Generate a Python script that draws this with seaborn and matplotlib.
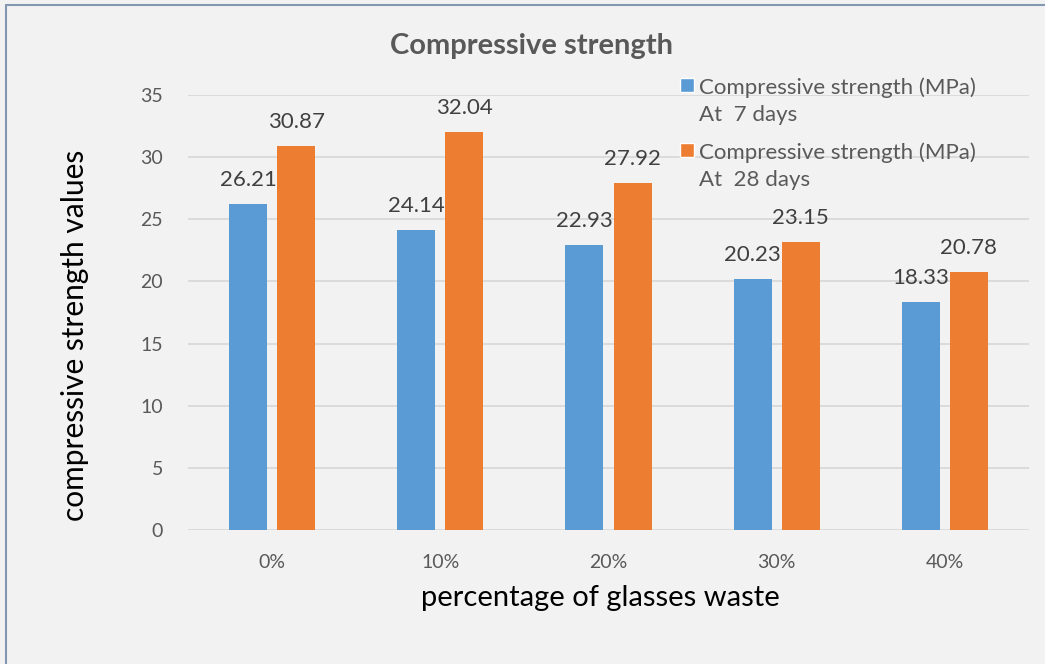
import matplotlib
matplotlib.use("Agg")
import matplotlib.pyplot as plt
from matplotlib.patches import Rectangle, Patch
from matplotlib.legend_handler import HandlerPatch
from matplotlib.lines import Line2D
import seaborn as sns
import pandas as pd

# Data
categories = ["0%", "10%", "20%", "30%", "40%"]
strength_7_days = [26.21, 24.14, 22.93, 20.23, 18.33]
strength_28_days = [30.87, 32.04, 27.92, 23.15, 20.78]
series_names = ["Compressive strength (MPa)\nAt  7 days",
                "Compressive strength (MPa)\nAt  28 days"]
y_ticks = [0, 5, 10, 15, 20, 25, 30, 35]

df = pd.DataFrame({
    "percentage": categories * 2,
    "value": strength_7_days + strength_28_days,
    "series": [series_names[0]] * len(categories) + [series_names[1]] * len(categories),
})

BLUE = "#5B9BD5"
ORANGE = "#ED7D31"
BG = "#F2F2F2"
GRID = "#D9D9D9"
GRAY = "#595959"

sns.set_theme(style="white")
plt.rcParams["font.family"] = ["Lato", "DejaVu Sans"]

W, H = 1045, 664
fig = plt.figure(figsize=(W / 100, H / 100), dpi=100, facecolor=BG)
ax = fig.add_axes([188 / W, 1 - 530 / H, (1029 - 188) / W, (530 - 95) / H])
ax.set_facecolor(BG)

sns.barplot(data=df, x="percentage", y="value", hue="series",
            palette=[BLUE, ORANGE], width=0.572, gap=0.21,
            saturation=1, linewidth=0, ax=ax, legend=False, zorder=3)

ax.set_ylim(0, 35)
ax.set_xlim(-0.5, len(categories) - 0.5)
ax.set_yticks(y_ticks)
ax.yaxis.grid(True, color=GRID, linewidth=1.3, zorder=0)
ax.set_axisbelow(True)
for s in ax.spines.values():
    s.set_visible(False)
ax.tick_params(axis="both", length=0, colors=GRAY, labelsize=14)
ax.tick_params(axis="y", pad=18)
ax.tick_params(axis="x", pad=17)

# Value labels above each bar
for container in ax.containers:
    ax.bar_label(container, fmt="%.2f", padding=10, fontsize=16, color="#404040")

ax.set_xlabel("percentage of glasses waste", fontsize=21, color="black")
ax.set_ylabel("compressive strength values", fontsize=21.5, color="black")
ax.xaxis.set_label_coords(600 / W, 1 - 598 / H, transform=fig.transFigure)
ax.xaxis.label.set_va("center")
ax.yaxis.set_label_coords(75 / W, 1 - 335 / H, transform=fig.transFigure)
ax.yaxis.label.set_va("center")
fig.text(532 / W, 1 - 46 / H, "Compressive strength", ha="center", va="center",
         fontsize=21, fontweight="bold", color=GRAY)


# Legend: small square marker beside the first line of each two-line label
def top_square(legend, orig_handle, xdescent, ydescent, width, height, fontsize):
    size = 0.63 * fontsize
    y_center = height - ydescent - 0.2 * fontsize
    return Rectangle((width - size - xdescent, y_center - size / 2), size, size)


handles = [Patch(facecolor=BLUE), Patch(facecolor=ORANGE)]
leg = ax.legend(handles, series_names, loc="upper left",
                bbox_to_anchor=(680 / W, 1 - 77 / H), bbox_transform=fig.transFigure,
                frameon=False, fontsize=16, labelcolor=GRAY,
                handlelength=0.65, handleheight=2.6, handletextpad=0.2,
                labelspacing=0.78, borderpad=0, borderaxespad=0,
                handler_map={Patch: HandlerPatch(patch_func=top_square)})
for t in leg.get_texts():
    t.set_linespacing(1.45)
leg.set_zorder(5)

# Outer chart border (left and top)
fig.add_artist(Line2D([6 / W, 6 / W], [0, 1 - 5 / H], transform=fig.transFigure,
                      color="#8497B0", linewidth=1.5))
fig.add_artist(Line2D([6 / W, 1], [1 - 5 / H, 1 - 5 / H], transform=fig.transFigure,
                      color="#8497B0", linewidth=1.5))

fig.savefig("out.png", dpi=100, facecolor=BG)
